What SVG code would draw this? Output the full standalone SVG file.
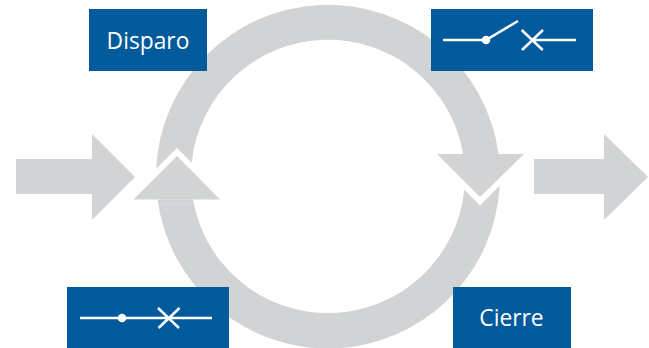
<svg xmlns="http://www.w3.org/2000/svg" width="649" height="348" viewBox="0 0 649 348">
<style>
.g{fill:#d1d3d4}
.b{fill:#005a9c}
.l{stroke:#fff;stroke-width:2.5;fill:none}
.d{fill:#fff}
.t{fill:#fff;font-family:"Open Sans",sans-serif;font-size:22.8px;text-anchor:middle}
</style>
<rect width="649" height="348" fill="#fff"/>
<g id="connectors">
<path class="g" d="M156.200,168.800 A172,172 0 0 1 498.500,154 L463.100,154 A137,137 0 0 0 191.700,162.700 L177,148 Z"/>
<path class="g" d="M499.700,185.800 A172,172 0 0 1 157.500,199.500 L193,199.500 A137,137 0 0 0 464.300,189.800 L480,205.500 Z"/>
<line x1="158" y1="204" x2="193.500" y2="204" stroke="#dcddde" stroke-width="0.6"/>
<polygon class="g" points="133.500,199.500 177,156 220,199.500"/>
<polygon class="g" points="437,154 524,154 480,197"/>
<polygon class="g" points="16,159 92,159 92,134 135,177 92,220 92,194 16,194"/>
<polygon class="g" points="534,159 604,159 604,134 648,177 604,220 604,194 534,194"/>
</g>
<g id="disparo">
<rect class="b" x="89" y="9" width="118" height="62"/>
<text class="t" x="148" y="48.700">Disparo</text>
</g>
<g id="switch-open">
<rect class="b" x="431" y="9" width="162" height="62"/>
<path class="l" d="M443,40H486L518,21M521.700,30L542.700,50M543,30L522,50M532,40H576"/>
<circle class="d" cx="486" cy="40" r="4.300"/>
</g>
<g id="switch-closed">
<rect class="b" x="67" y="287" width="162" height="62"/>
<path class="l" d="M80,318H212M158,308L179,328M179.500,308L158.500,328"/>
<circle class="d" cx="122" cy="318" r="4.300"/>
</g>
<g id="cierre">
<rect class="b" x="453" y="287" width="118" height="62"/>
<text class="t" x="511.500" y="326">Cierre</text>
</g>
</svg>
